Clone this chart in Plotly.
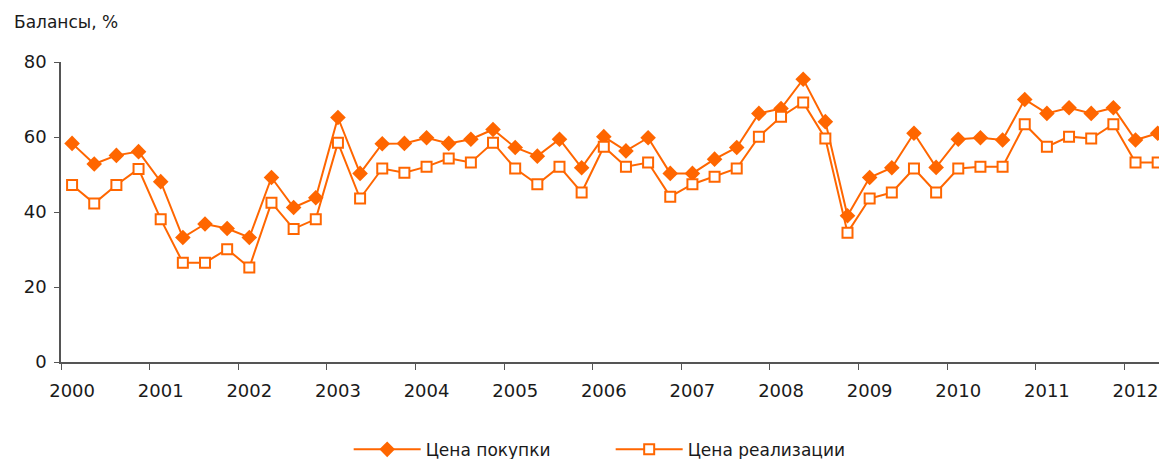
import plotly.graph_objects as go

years = list(range(2000, 2013))
quarters = [y + (q - 0.5) / 4 for y in years for q in range(1, 5)][:50]

buy_price = [58.3, 52.8, 55.1, 56.1,
             48.1, 33.2, 36.8, 35.6,
             33.2, 49.2, 41.2, 43.8,
             65.2, 50.3, 58.2, 58.3,
             59.8, 58.3, 59.4, 62.0,
             57.2, 54.9, 59.4, 51.8,
             60.1, 56.3, 59.8, 50.3,
             50.3, 54.1, 57.2, 66.3,
             67.6, 75.4, 64.1, 39.0,
             49.2, 51.8, 61.0, 51.9,
             59.4, 59.8, 59.2, 70.0,
             66.3, 67.8, 66.3, 67.8,
             59.2, 61.0]
sale_price = [47.2, 42.3, 47.2, 51.5,
              38.1, 26.5, 26.5, 30.1,
              25.2, 42.5, 35.5, 38.1,
              58.5, 43.6, 51.6, 50.5,
              52.1, 54.3, 53.2, 58.5,
              51.6, 47.4, 52.1, 45.2,
              57.4, 52.1, 53.2, 44.1,
              47.4, 49.4, 51.6, 60.1,
              65.4, 69.2, 59.6, 34.5,
              43.6, 45.2, 51.6, 45.2,
              51.6, 52.1, 52.1, 63.4,
              57.4, 60.1, 59.6, 63.4,
              53.2, 53.2]

orange = "#FF6600"
font = "DejaVu Sans"

fig = go.Figure()
fig.add_trace(go.Scatter(x=quarters, y=buy_price, name="Цена покупки", mode="lines+markers",
                         line=dict(color=orange, width=2),
                         marker=dict(symbol="diamond", size=12, color=orange)))
fig.add_trace(go.Scatter(x=quarters, y=sale_price, name="Цена реализации", mode="lines+markers",
                         line=dict(color=orange, width=2),
                         marker=dict(symbol="square", size=10, color="white",
                                     line=dict(color=orange, width=2))))

fig.update_layout(
    width=1159, height=459,
    margin=dict(l=61, r=0, t=62, b=97, autoexpand=False),
    plot_bgcolor="white", paper_bgcolor="white",
    font=dict(family=font, size=17, color="#1a1a1a"),
    showlegend=True,
    legend=dict(orientation="h", x=0.262, xanchor="left", yref="container", y=0.02,
                yanchor="middle", font=dict(size=17), itemwidth=67,
                entrywidth=180, entrywidthmode="pixels"),
    annotations=[dict(text="Балансы, %", xref="paper", yref="paper", x=-0.0446, y=1.133,
                      xanchor="left", yanchor="middle", showarrow=False,
                      font=dict(size=17))],
)
fig.update_xaxes(range=[2000, 2012.39], tickvals=[y + 0.125 for y in years],
                 ticktext=[str(y) for y in years], ticks="", showgrid=False,
                 showline=True, linecolor="#555", linewidth=1.5, zeroline=False,
                 automargin=False, tickfont=dict(size=18), ticklabelstandoff=12,
                 minor=dict(tickvals=years, ticks="outside", ticklen=6, tickcolor="#555",
                            showgrid=False))
fig.update_yaxes(range=[0, 80], tickvals=[0, 20, 40, 60, 80], ticks="outside", ticklen=5,
                 tickcolor="#555", showgrid=False, showline=True, linecolor="#555",
                 linewidth=1.5, zeroline=False, automargin=False, tickfont=dict(size=18),
                 ticklabelstandoff=4)

# the page body has an 8px margin by default, drop it so the figure sits at 0,0
fig.write_html("out.html", config={"displayModeBar": False},
               post_script="document.body.style.margin='0';")
